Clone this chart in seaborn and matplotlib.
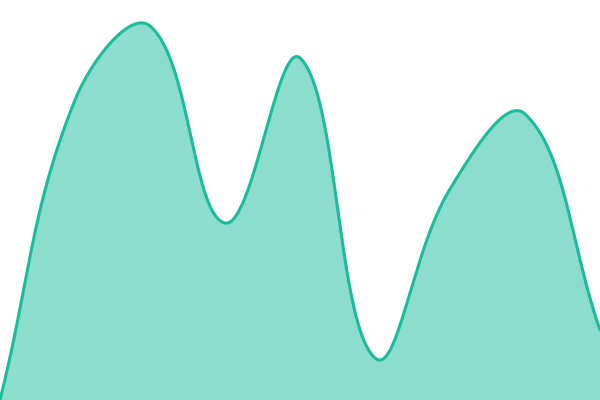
import numpy as np
import pandas as pd
import matplotlib
matplotlib.use("Agg")
import matplotlib.pyplot as plt
import seaborn as sns

# Data
steps = [0, 1, 2, 3, 4, 5, 6, 7, 8]
values = [0, 300, 374, 177, 342, 42, 211, 286, 70]

LINE = "#1abc9c"
W, H = 600, 400
YMAX = 400
TENSION = 0.4


def spline_curve(px, py, t=TENSION, n=80):
    """Distance-weighted bezier spline through points (pixel space)."""
    P = np.column_stack([px, py]).astype(float)
    N = len(P)
    prev_cp, next_cp = [], []
    for i in range(N):
        cur = P[i]
        prv = P[i - 1] if i > 0 else cur
        nxt = P[i + 1] if i < N - 1 else cur
        d01 = np.linalg.norm(cur - prv)
        d12 = np.linalg.norm(nxt - cur)
        s = d01 + d12
        s01 = d01 / s if s else 0
        s12 = d12 / s if s else 0
        fa, fb = t * s01, t * s12
        pc = cur - fa * (nxt - prv)
        nc = cur + fb * (nxt - prv)
        pc = np.clip(pc, [0, 0], [W, H])
        nc = np.clip(nc, [0, 0], [W, H])
        prev_cp.append(pc)
        next_cp.append(nc)
    out = []
    for i in range(N - 1):
        p1, p2 = P[i], P[i + 1]
        c1, c2 = next_cp[i], prev_cp[i + 1]
        tt = np.linspace(0, 1, n, endpoint=(i == N - 2))[:, None]
        seg = ((1 - tt)**3) * p1 + 3 * ((1 - tt)**2) * tt * c1 + 3 * (1 - tt) * tt**2 * c2 + tt**3 * p2
        out.append(seg)
    c = np.vstack(out)
    return c[:, 0], c[:, 1]


sns.set_theme(style="white")
fig = plt.figure(figsize=(6, 4), dpi=100)
ax = fig.add_axes([0, 0, 1, 1])

px = np.array(steps, float) / steps[-1] * W
py = H - np.array(values, float) / YMAX * H
cx, cy = spline_curve(px, py)
df = pd.DataFrame({"x": cx / W * steps[-1], "y": (H - cy) / H * YMAX})

ax.fill_between(df["x"], 0, df["y"], color=LINE, alpha=0.5, linewidth=0)
sns.lineplot(data=df, x="x", y="y", ax=ax, color=LINE, linewidth=2.2,
             sort=False, estimator=None)

ax.set_xlim(steps[0], steps[-1])
ax.set_ylim(0, YMAX)
ax.axis("off")
fig.savefig("out.png", dpi=100)
